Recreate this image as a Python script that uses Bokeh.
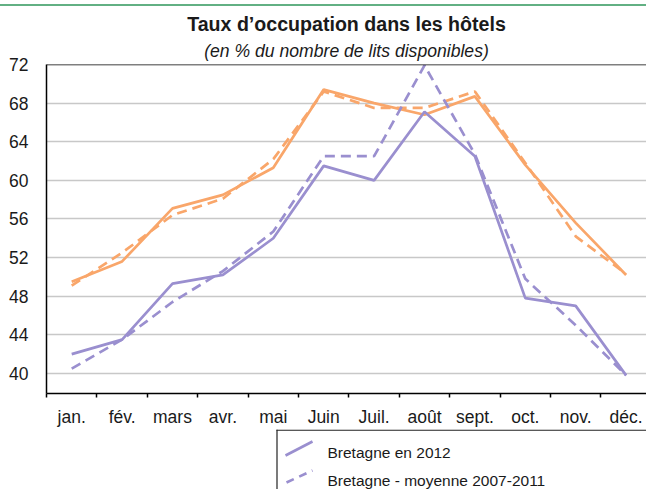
from bokeh.plotting import figure
from bokeh.layouts import column
from bokeh.models import Range1d, FixedTicker, Span, Div, Title
from bokeh.embed import file_html
from bokeh.resources import INLINE
from bokeh.core.properties import value

# ---------------- data ----------------
months = ["jan.", "fév.", "mars", "avr.", "mai", "Juin", "Juil.", "août",
          "sept.", "oct.", "nov.", "déc."]
bretagne_2012 = [42.0, 43.5, 49.3, 50.2, 54.0, 61.5, 60.0, 67.1, 62.5, 47.8, 47.0, 39.8]
bretagne_moy = [40.5, 43.5, 47.4, 50.6, 54.7, 62.5, 62.5, 71.9, 62.7, 49.8, 45.0, 39.8]
autre_2012 = [49.5, 51.6, 57.1, 58.5, 61.3, 69.4, 68.0, 66.8, 68.7, 61.6, 55.6, 50.2]
autre_moy = [49.1, 52.5, 56.4, 58.1, 62.2, 69.2, 67.5, 67.5, 69.2, 61.8, 54.2, 50.3]
y_ticks = [40, 44, 48, 52, 56, 60, 64, 68, 72]
legend_labels = ["Bretagne en 2012", "Bretagne - moyenne 2007-2011"]
title_text = "Taux d\u2019occupation dans les hôtels"
subtitle_text = "(en % du nombre de lits disponibles)"

# ---------------- style ----------------
FONT = "Liberation Sans"
PURPLE = "#9A8FCF"
ORANGE = "#F9A66A"
GREEN = "#62B083"
GRID = "#C8C8C8"
TXT = "#1a1a1a"
LW = 2.7
DASH = "10 6"
LEFT = 46
W = 646

# ---------------- green header rule ----------------
rule = Div(text="", width=W, height=2, margin=(4, 0, 0, 0),
           styles={"background-color": GREEN})

# ---------------- main chart ----------------
x = list(range(len(months)))
p = figure(width=W, height=423, x_range=Range1d(-0.5, -0.5 + (W - LEFT) / 50.4),
           y_range=Range1d(37.92, 72), output_backend="svg", toolbar_location=None,
           min_border_left=LEFT, min_border_right=0, min_border_top=58, min_border_bottom=32)
p.outline_line_color = None

p.add_layout(Title(text=subtitle_text, align="center", text_font=FONT,
                   text_font_style="italic", text_font_size="17.6px",
                   text_color=TXT, standoff=8), "above")
p.add_layout(Title(text=title_text, align="center", text_font=FONT,
                   text_font_style="bold", text_font_size="19.6px",
                   text_color=TXT, standoff=0, offset=2), "above")

p.xgrid.visible = False
p.ygrid.ticker = FixedTicker(ticks=y_ticks[:-1])
p.ygrid.grid_line_color = GRID
p.ygrid.grid_line_width = 1.6

p.yaxis.ticker = FixedTicker(ticks=y_ticks)
p.yaxis.major_tick_out = 0
p.yaxis.major_tick_in = 0
p.yaxis.minor_tick_out = 0
p.yaxis.minor_tick_in = 0
p.yaxis.major_label_standoff = 18
p.yaxis.axis_line_color = "black"
p.yaxis.axis_line_width = 1.5
p.yaxis.major_label_text_font = FONT
p.yaxis.major_label_text_font_size = "17.5px"
p.yaxis.major_label_text_color = TXT

p.xaxis.ticker = FixedTicker(ticks=x, minor_ticks=[i - 0.5 for i in range(len(months) + 1)])
p.xaxis.major_label_overrides = {i: m for i, m in enumerate(months)}
p.xaxis.major_tick_out = 0
p.xaxis.major_tick_in = 0
p.xaxis.minor_tick_out = 4
p.xaxis.minor_tick_in = 0
p.xaxis.minor_tick_line_color = "black"
p.xaxis.minor_tick_line_width = 1.5
p.xaxis.axis_line_color = "black"
p.xaxis.axis_line_width = 1.5
p.xaxis.major_label_standoff = 9
p.xaxis.major_label_text_font = FONT
p.xaxis.major_label_text_font_size = "17.5px"
p.xaxis.major_label_text_color = TXT

p.add_layout(Span(location=72, dimension="width", line_color="black", line_width=1.5))

p.line(x, autre_moy, line_color=ORANGE, line_width=LW, line_dash=DASH)
p.line(x, autre_2012, line_color=ORANGE, line_width=LW)
p.line(x, bretagne_moy, line_color=PURPLE, line_width=LW, line_dash=DASH)
p.line(x, bretagne_2012, line_color=PURPLE, line_width=LW)

# ---------------- legend ----------------
leg = figure(width=W, height=60, x_range=Range1d(LEFT, W), y_range=Range1d(489, 429),
             x_axis_type=None, y_axis_type=None, output_backend="svg",
             toolbar_location=None, min_border=0, min_border_left=LEFT)
leg.grid.visible = False
leg.outline_line_color = None
leg.segment(x0=[276, 276.5], y0=[429.6, 429], x1=[W, 276.5], y1=[429.6, 489],
            line_color="#222222", line_width=1.2)
leg.segment(x0=[285], y0=[455], x1=[312], y1=[441], line_color=PURPLE, line_width=LW)
leg.segment(x0=[286], y0=[482], x1=[312], y1=[470], line_color=PURPLE, line_width=LW,
            line_dash="8 6")
leg.text(x=[327, 327], y=[451.7, 480], text=legend_labels, text_font=value(FONT),
         text_font_size="15.5px", text_align="left", text_baseline="alphabetic",
         text_color=TXT)

layout = column(rule, p, leg, spacing=0)
open("out.html", "w").write(file_html(layout, INLINE))
